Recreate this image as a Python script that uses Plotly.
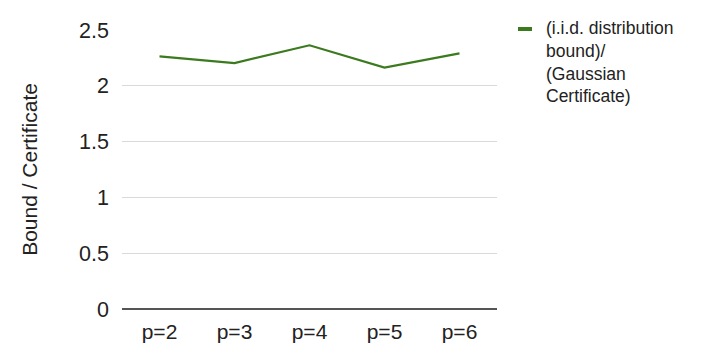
import plotly.graph_objects as go

categories = ["p=2", "p=3", "p=4", "p=5", "p=6"]
ratio_values = [2.264, 2.204, 2.363, 2.163, 2.291]
y_tick_vals = [0, 0.5, 1, 1.5, 2, 2.5]
y_tick_text = ["0", "0.5", "1", "1.5", "2", "2.5"]
series_name = "(i.i.d. distribution<br>bound)/<br>(Gaussian<br>Certificate)"

FONT = "Arial, 'Liberation Sans', sans-serif"
GREEN = "#3b7a1e"
W, H = 720, 363
ML, MR, MT, MB = 122, 223, 30, 54
PW, PH = W - ML - MR, H - MT - MB


def px_x(p):
    return (p - ML) / PW


def px_y(p):
    return 1 - (p - MT) / PH


fig = go.Figure()
fig.add_trace(go.Scatter(
    x=categories, y=ratio_values, mode="lines", name=series_name,
    line=dict(color=GREEN, width=2.2), showlegend=False,
))

# legend (custom, to match short swatch at first line)
fig.add_shape(type="line", xref="paper", yref="paper",
              x0=px_x(518), x1=px_x(532), y0=px_y(29), y1=px_y(29),
              line=dict(color=GREEN, width=4))
fig.add_annotation(xref="paper", yref="paper", x=px_x(544), y=px_y(16),
                   xanchor="left", yanchor="top", align="left",
                   text=series_name, showarrow=False,
                   font=dict(size=17.5, color="#222222"))

fig.update_layout(
    width=W, height=H,
    margin=dict(l=ML, r=MR, t=MT, b=MB),
    paper_bgcolor="white", plot_bgcolor="white",
    font=dict(family=FONT, size=21, color="#222222"),
    xaxis=dict(
        type="category", range=[-0.5, 4.5], showgrid=False,
        showline=False, zeroline=False, ticks="", ticklabelstandoff=8,
        tickfont=dict(size=21),
    ),
    yaxis=dict(
        range=[0, 2.5], tickvals=y_tick_vals, ticktext=y_tick_text,
        showgrid=True, gridcolor="#d9d9d9", gridwidth=1,
        zeroline=True, zerolinecolor="#555555", zerolinewidth=2,
        showline=False, ticks="", ticklabelstandoff=12,
        tickfont=dict(size=21.5),
        title=dict(text="Bound / Certificate", font=dict(size=21), standoff=35),
    ),
)

fig.write_html("out.html")
